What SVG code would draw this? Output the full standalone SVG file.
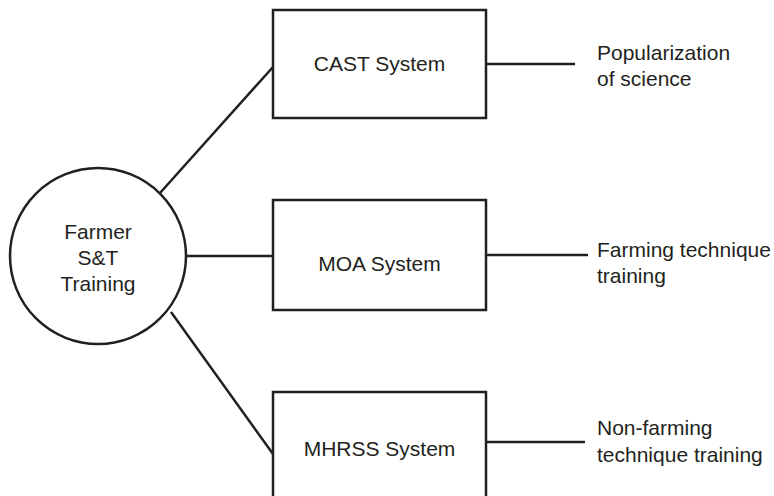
<svg xmlns="http://www.w3.org/2000/svg" width="774" height="496" viewBox="0 0 774 496">
<style>
.s{fill:#fff;stroke:#231f20;stroke-width:2.5}
.c{fill:none;stroke:#231f20;stroke-width:2.5}
text{font-family:"Liberation Sans",Arial,sans-serif;font-size:21px;fill:#231f20}
.m{text-anchor:middle}
</style>
<rect width="774" height="496" fill="#fff"/>
<g id="connectors">
<line class="c" x1="160" y1="193" x2="273" y2="67"/>
<line class="c" x1="185" y1="256" x2="273" y2="256"/>
<line class="c" x1="171" y1="312" x2="273" y2="454"/>
<line class="c" x1="486" y1="64" x2="575" y2="64"/>
<line class="c" x1="486" y1="255" x2="588" y2="255"/>
<line class="c" x1="486" y1="442" x2="585" y2="442"/>
</g>
<g id="farmer">
<circle class="s" cx="98" cy="256" r="88"/>
<text class="m" x="98" y="239">Farmer</text>
<text class="m" x="98" y="265">S&amp;T</text>
<text class="m" x="98" y="291">Training</text>
</g>
<g id="cast">
<rect class="s" x="273" y="10" width="213" height="108"/>
<text class="m" x="379.5" y="71">CAST System</text>
</g>
<g id="moa">
<rect class="s" x="273" y="200" width="213" height="110"/>
<text class="m" x="379.5" y="271">MOA System</text>
</g>
<g id="mhrss">
<rect class="s" x="273" y="392" width="213" height="120"/>
<text class="m" x="379.5" y="456">MHRSS System</text>
</g>
<g id="label-cast">
<text x="597" y="60">Popularization</text>
<text x="597" y="86">of science</text>
</g>
<g id="label-moa">
<text x="597" y="257">Farming technique</text>
<text x="597" y="283">training</text>
</g>
<g id="label-mhrss">
<text x="597" y="435">Non-farming</text>
<text x="597" y="462">technique training</text>
</g>
</svg>
